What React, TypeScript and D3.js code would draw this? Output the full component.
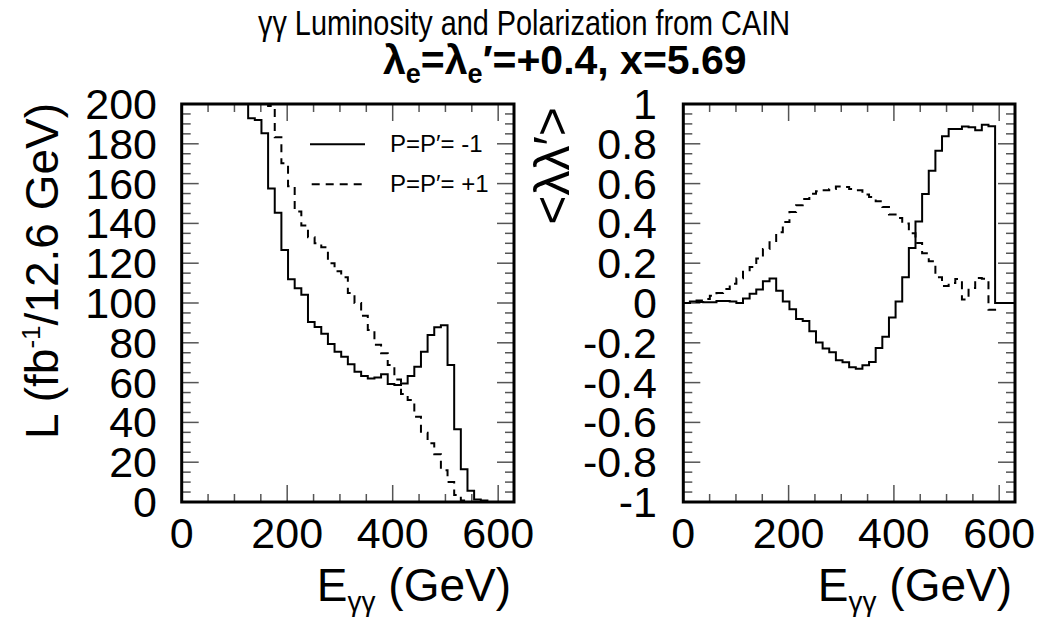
import React from "react";
import * as d3 from "d3";

// ---- Histogram definition ----
const binWidth = 12.6; // GeV
const nBins = 50;
const eMax = 630;

// ---- Left panel: luminosity (fb^-1 / 12.6 GeV); null = off scale (> 200) ----
const lumMinus: (number | null)[] = [
  null, null, null, null, null, null, null, null, null, null,
  192.8, 192, 185.3, 157.6, 145.4, 126.6, 111.9, 107.4, 104.2, 90.5,
  87.9, 84.6, 79.4, 75.5, 73, 69.2, 65.5, 63.3, 62.1, 62.6,
  64.2, 59.3, 58.8, 59.6, 63.3, 68, 75.5, 83.9, 87.8, 88.8,
  68.8, 36.5, 16.4, 5.7, 1.3, 0.7, 0, 0, 0, 0,
];
const lumPlus: (number | null)[] = [
  null, null, null, null, null, null, null, null, null, null,
  null, null, null, 199, 183.3, 170.2, 158.7, 146, 139, 133,
  130, 128, 120, 116, 113, 105, 100, 93.6, 86.4, 79,
  74.7, 68.8, 61.6, 54.3, 51.3, 42.9, 34.8, 29.5, 24, 16,
  10, 3.5, 0.7, 0, 0, 0, 0, 0, 0, 0,
];

// ---- Right panel: <lambda lambda'> ----
const polMinus: number[] = [
  0.0, 0.007, 0.005, 0.004, 0.004, 0.01, 0.01, 0.008, 0.0, 0.022,
  0.046, 0.068, 0.109, 0.123, 0.062, 0.008, -0.032, -0.08, -0.09, -0.142,
  -0.198, -0.229, -0.248, -0.288, -0.298, -0.323, -0.33, -0.313, -0.296, -0.226,
  -0.17, -0.073, 0.008, 0.129, 0.276, 0.41, 0.548, 0.664, 0.765, 0.838,
  0.875, 0.875, 0.887, 0.883, 0.868, 0.896, 0.888, 0, 0, 0,
];
const polPlus: number[] = [
  0.0, 0.005, 0.012, 0.02, 0.037, 0.05, 0.07, 0.097, 0.124, 0.164,
  0.181, 0.223, 0.271, 0.305, 0.355, 0.407, 0.457, 0.491, 0.523, 0.549,
  0.561, 0.566, 0.573, 0.586, 0.583, 0.573, 0.567, 0.545, 0.533, 0.511,
  0.482, 0.445, 0.427, 0.399, 0.35, 0.302, 0.25, 0.21, 0.13, 0.085,
  0.1, 0.12, 0.017, 0.075, 0.126, 0.122, -0.034, 0, 0, 0,
];

// ---- Ticks / labels ----
const xTickLabels = [0, 200, 400, 600];
const lumTickLabels = [0, 20, 40, 60, 80, 100, 120, 140, 160, 180, 200];
const polTickLabels = [-1, -0.8, -0.6, -0.4, -0.2, 0, 0.2, 0.4, 0.6, 0.8, 1];
const legendLabels = ["P=P\u2032= -1", "P=P\u2032= +1"];

const FONT = "'Liberation Sans', Arial, Helvetica, sans-serif";

type Frame = { x0: number; x1: number; y0: number; y1: number };

function histPath(
  vals: (number | null)[],
  x: d3.ScaleLinear<number, number>,
  y: d3.ScaleLinear<number, number>,
  yTop: number
) {
  const pts: [number, number][] = vals.map((v, i) => [
    x(i * binWidth),
    v === null ? yTop : y(v),
  ]);
  pts.push([x(nBins * binWidth), pts[pts.length - 1][1]]);
  const line = d3.line().curve(d3.curveStepAfter);
  return line(pts) || "";
}

function Ticks({
  f,
  x,
  y,
  xStep,
  xMajor,
  yMin,
  yMax,
  yStep,
  yMajor,
}: {
  f: Frame;
  x: d3.ScaleLinear<number, number>;
  y: d3.ScaleLinear<number, number>;
  xStep: number;
  xMajor: number;
  yMin: number;
  yMax: number;
  yStep: number;
  yMajor: number;
}) {
  const els: React.ReactNode[] = [];
  const xs = d3.range(0, eMax + 1e-6, xStep);
  xs.forEach((v, i) => {
    const major = Math.abs(v / xMajor - Math.round(v / xMajor)) < 1e-6;
    const L = major ? 17 : 8;
    const px = x(v);
    els.push(<line key={"xb" + i} x1={px} x2={px} y1={f.y1} y2={f.y1 - L} />);
    els.push(<line key={"xt" + i} x1={px} x2={px} y1={f.y0} y2={f.y0 + L} />);
  });
  const nY = Math.round((yMax - yMin) / yStep);
  for (let k = 0; k <= nY; k++) {
    const v = yMin + k * yStep;
    const r = (v - yMin) / yMajor;
    const major = Math.abs(r - Math.round(r)) < 1e-6;
    const L = major ? 17 : 9;
    const py = y(v);
    els.push(<line key={"yl" + k} x1={f.x0} x2={f.x0 + L} y1={py} y2={py} />);
    els.push(<line key={"yr" + k} x1={f.x1} x2={f.x1 - L} y1={py} y2={py} />);
  }
  return (
    <g stroke="#555" strokeWidth={1.5}>
      {els}
    </g>
  );
}

function XAxisText({ f, x }: { f: Frame; x: d3.ScaleLinear<number, number> }) {
  return (
    <g fontFamily={FONT} fill="#000">
      {xTickLabels.map((v) => (
        <text key={v} x={x(v)} y={548} fontSize={43} textAnchor="middle">
          {v}
        </text>
      ))}
      <text x={f.x1 - 3} y={601} fontSize={46} textAnchor="end">
        <tspan>E</tspan>
        <tspan fontSize={28} dy={10}>
          {"\u03b3\u03b3"}
        </tspan>
        <tspan dy={-10}>{" (GeV)"}</tspan>
      </text>
    </g>
  );
}

export default function App() {
  const fL: Frame = { x0: 181.7, x1: 514, y0: 104, y1: 502 };
  const fR: Frame = { x0: 683.3, x1: 1015, y0: 104, y1: 502 };

  const xL = d3.scaleLinear().domain([0, eMax]).range([fL.x0, fL.x1]);
  const xR = d3.scaleLinear().domain([0, eMax]).range([fR.x0, fR.x1]);
  const yL = d3.scaleLinear().domain([0, 200]).range([fL.y1, fL.y0]).clamp(true);
  const yR = d3.scaleLinear().domain([-1, 1]).range([fR.y1, fR.y0]).clamp(true);

  const dash = "8 6";

  return (
    <svg
      width={1040}
      height={625}
      viewBox="0 0 1040 625"
      style={{ position: "absolute", left: 0, top: 0, background: "#fff" }}
    >
      <rect x={0} y={0} width={1040} height={625} fill="#fff" />

      {/* Title */}
      <g fontFamily={FONT} fill="#000">
        <text
          x={258}
          y={35}
          fontSize={35}
          textLength={532}
          lengthAdjust="spacingAndGlyphs"
        >
          {"\u03b3\u03b3 Luminosity and Polarization from CAIN"}
        </text>
        <text x={383} y={74} fontSize={41} fontWeight="bold">
          <tspan>{"\u03bb"}</tspan>
          <tspan fontSize={27} dy={9}>e</tspan>
          <tspan dy={-9}>{"=\u03bb"}</tspan>
          <tspan fontSize={27} dy={9}>e</tspan>
          <tspan dy={-9}>{"\u2032=+0.4, x=5.69"}</tspan>
        </text>
      </g>

      {/* Left panel */}
      <Ticks f={fL} x={xL} y={yL} xStep={50} xMajor={200} yMin={0} yMax={200} yStep={5} yMajor={20} />
      <path d={histPath(lumMinus, xL, yL, fL.y0)} fill="none" stroke="#000" strokeWidth={2} />
      <path d={histPath(lumPlus, xL, yL, fL.y0)} fill="none" stroke="#000" strokeWidth={2} strokeDasharray={dash} />
      <rect x={fL.x0} y={fL.y0} width={fL.x1 - fL.x0} height={fL.y1 - fL.y0} fill="none" stroke="#000" strokeWidth={3} />

      {/* Legend */}
      <g fontFamily={FONT} fontSize={24} fill="#000">
        <line x1={310} x2={365} y1={144.3} y2={144.3} stroke="#000" strokeWidth={2} />
        <text x={390} y={152.3}>{legendLabels[0]}</text>
        <line x1={311.7} x2={365} y1={184.3} y2={184.3} stroke="#000" strokeWidth={2} strokeDasharray={dash} />
        <text x={390} y={191.7}>{legendLabels[1]}</text>
      </g>

      <g fontFamily={FONT} fill="#000" fontSize={43} textAnchor="end">
        {lumTickLabels.map((v) => (
          <text key={v} x={157} y={yL(v) + 15}>
            {v}
          </text>
        ))}
      </g>
      <text
        transform={`translate(58, ${fL.y0 - 1}) rotate(-90)`}
        fontFamily={FONT}
        fontSize={46}
        textAnchor="end"
        fill="#000"
      >
        <tspan>L (fb</tspan>
        <tspan fontSize={26} dy={-18}>-1</tspan>
        <tspan dy={18}>/12.6 GeV)</tspan>
      </text>
      <XAxisText f={fL} x={xL} />

      {/* Right panel */}
      <Ticks f={fR} x={xR} y={yR} xStep={50} xMajor={200} yMin={-1} yMax={1} yStep={0.05} yMajor={0.2} />
      <path d={histPath(polMinus, xR, yR, fR.y0)} fill="none" stroke="#000" strokeWidth={2} />
      <path d={histPath(polPlus, xR, yR, fR.y0)} fill="none" stroke="#000" strokeWidth={2} strokeDasharray={dash} />
      <rect x={fR.x0} y={fR.y0} width={fR.x1 - fR.x0} height={fR.y1 - fR.y0} fill="none" stroke="#000" strokeWidth={3} />

      <g fontFamily={FONT} fill="#000" fontSize={43} textAnchor="end">
        {polTickLabels.map((v) => (
          <text key={v} x={657} y={yR(v) + 15}>
            {v === 0 ? "0" : Math.abs(v) === 1 ? String(v) : v.toFixed(1)}
          </text>
        ))}
      </g>
      <text
        transform={`translate(569, ${fR.y0 + 3}) rotate(-90)`}
        fontFamily={FONT}
        fontSize={50}
        textAnchor="end"
        fill="#000"
      >
        {"<\u03bb\u03bb\u2032>"}
      </text>
      <XAxisText f={fR} x={xR} />
    </svg>
  );
}
